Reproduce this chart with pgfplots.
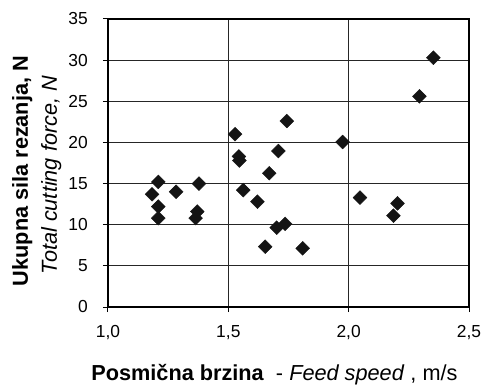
\documentclass[border=0pt]{standalone}
\usepackage{pgfplots}
\pgfplotsset{compat=1.18}
\usepackage{fontspec}
\setmainfont{Liberation Sans}
\begin{document}
\begin{tikzpicture}
\path[use as bounding box] (-108bp,-78bp) rectangle (373bp,307bp);
\begin{axis}[
  at={(0,0)}, anchor=south west,
  width=361bp, height=288bp, scale only axis,
  xmin=1, xmax=2.5, ymin=0, ymax=35,
  xtick={1,1.5,2,2.5}, xticklabels={{1,0},{1,5},{2,0},{2,5}},
  ytick={0,5,...,35},
  tick align=outside, xtick pos=bottom, ytick pos=left,
  major tick length=5bp,
  tick style={black, line width=1bp},
  grid=major, grid style={black!85, line width=1bp},
  axis line style={black, line width=1.6bp},
  tick label style={font=\fontsize{17.4bp}{20bp}\selectfont},
  yticklabel style={anchor=east, inner sep=0pt, xshift=-15bp},
  xticklabel style={anchor=north, inner sep=0pt, yshift=-13bp},
  /pgf/number format/assume math mode=true,
  clip=false,
]
\addplot[only marks, mark=square*, mark size=4.9bp, mark options={rotate=45, fill=black!92, draw=black!92}] table {
x y
2.352 30.3
2.294 25.6
1.743 22.6
1.975 20.05
1.708 18.95
1.528 21.0
1.544 18.3
1.546 17.8
1.670 16.25
1.209 15.2
1.183 13.7
1.283 14.0
1.378 15.0
1.209 12.2
1.209 10.8
1.371 11.6
1.364 10.8
1.562 14.2
1.621 12.8
1.653 7.33
1.701 9.64
1.736 10.1
1.809 7.13
2.047 13.3
2.203 12.6
2.186 11.1
};
\node[rotate=90, anchor=base, font=\fontsize{21.7bp}{26bp}\selectfont\bfseries] at (axis description cs:-0.2216,0.472) {Ukupna sila rezanja, N};
\node[rotate=90, anchor=base, font=\fontsize{21.7bp}{26bp}\selectfont\itshape] at (axis description cs:-0.1413,0.458) {Total cutting force, N};
\node[anchor=base, font=\fontsize{21.7bp}{26bp}\selectfont] at (axis description cs:0.461,-0.2535) {\textbf{Posmična brzina}\ \ - \textit{Feed speed}\ , m/s};
\end{axis}
\end{tikzpicture}
\end{document}
